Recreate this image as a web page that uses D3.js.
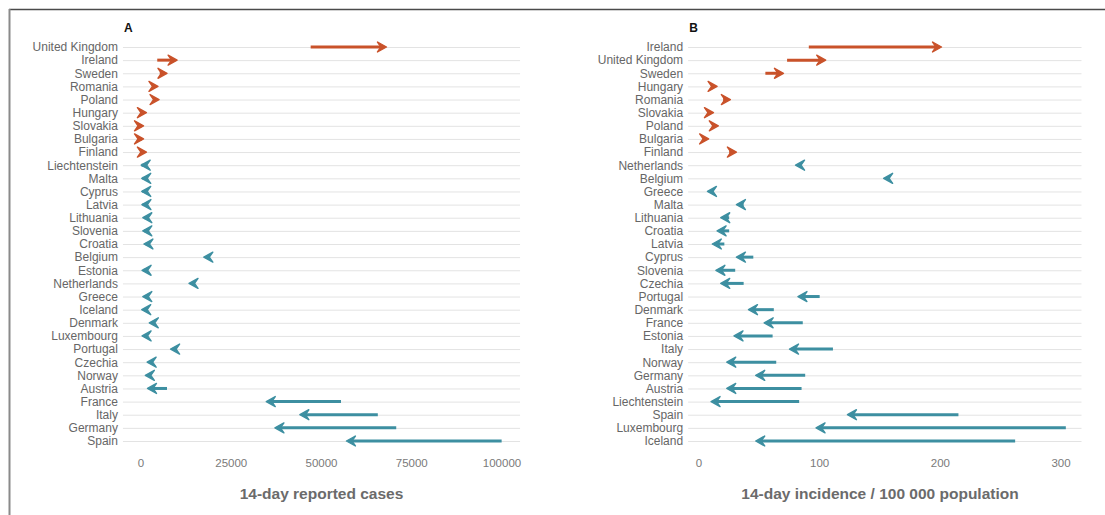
<!DOCTYPE html>
<html>
<head>
<meta charset="utf-8">
<script src="https://cdn.jsdelivr.net/npm/d3@7"></script>
<style>
  body { margin: 0; background: #fff; }
  svg { display: block; font-family: "Liberation Sans", Arial, sans-serif; }
</style>
</head>
<body>
<script>
// panel A : 14-day reported cases (previous -> current)
var countriesA = ["United Kingdom","Ireland","Sweden","Romania","Poland","Hungary","Slovakia","Bulgaria","Finland",
  "Liechtenstein","Malta","Cyprus","Latvia","Lithuania","Slovenia","Croatia","Belgium","Estonia","Netherlands",
  "Greece","Iceland","Denmark","Luxembourg","Portugal","Czechia","Norway","Austria","France","Italy","Germany","Spain"];
var startA = [47000,4500,5200,3600,3900,600,200,300,800,
  150,400,400,450,900,900,1300,19000,700,14800,
  1000,800,3600,900,9800,3300,2600,7200,55400,65600,70700,99900];
var endA = [68000,10000,7200,4700,5000,1500,700,700,1500,
  50,200,200,250,500,500,800,17400,300,13300,
  500,200,2300,300,8200,1700,1200,1800,34700,44000,37100,56900];

// panel B : 14-day incidence / 100 000 population
var countriesB = ["Ireland","United Kingdom","Sweden","Hungary","Romania","Slovakia","Poland","Bulgaria","Finland",
  "Netherlands","Belgium","Greece","Malta","Lithuania","Croatia","Latvia","Cyprus","Slovenia","Czechia",
  "Portugal","Denmark","France","Estonia","Italy","Norway","Germany","Austria","Liechtenstein","Spain","Luxembourg","Iceland"];
var startB = [91,73,55,10,20,7,11,3,25,
  84,158,12,37,25,25,21,45,30,37,
  100,62,86,61,111,64,88,85,83,215,304,262];
var endB = [201,105,70,15,26,12,16,8,31,
  80,153,7,31,18,15,11,31,14,18,
  82,41,54,29,75,23,47,23,10,123,97,47];

var ticksA = [0,25000,50000,75000,100000];
var ticksB = [0,100,200,300];

var orange = "#c9522a", teal = "#3d8fa1";

var svg = d3.select("body").append("svg")
  .attr("width", 1105).attr("height", 515);

// frame (top + left only)
svg.append("line").attr("x1", 9).attr("x2", 1105).attr("y1", 9.5).attr("y2", 9.5)
  .attr("stroke", "#4a4a4a").attr("stroke-width", 1.5);
svg.append("line").attr("x1", 9.5).attr("x2", 9.5).attr("y1", 9).attr("y2", 515)
  .attr("stroke", "#8a8a8a").attr("stroke-width", 2);

function panel(opt) {
  var g = svg.append("g");
  var x = d3.scaleLinear().domain(opt.domain).range(opt.range);
  var y = d3.scalePoint().domain(opt.countries).range([47, 441]);
  var gx0 = x(opt.gridExt[0]), gx1 = x(opt.gridExt[1]);

  // grid lines
  g.selectAll("line.grid").data(opt.countries).enter().append("line")
    .attr("class", "grid")
    .attr("x1", gx0).attr("x2", gx1)
    .attr("y1", function(d){ return y(d) + 0.5; })
    .attr("y2", function(d){ return y(d) + 0.5; })
    .attr("stroke", "#e3e3e3").attr("stroke-width", 1);

  // country labels
  g.selectAll("text.lab").data(opt.countries).enter().append("text")
    .attr("class", "lab")
    .attr("x", gx0 - 5)
    .attr("y", function(d){ return y(d); })
    .attr("dy", "0.36em")
    .attr("text-anchor", "end")
    .attr("font-size", "12px")
    .attr("fill", "#666")
    .text(function(d){ return d; });

  // arrows
  var rows = opt.countries.map(function(c, i){
    return {c: c, s: opt.start[i], e: opt.end[i]};
  });
  var arrows = g.selectAll("g.arrow").data(rows).enter().append("g").attr("class", "arrow");
  arrows.append("line")
    .attr("x1", function(d){ return x(d.s); })
    .attr("x2", function(d){ var dir = d.e >= d.s ? 1 : -1; return x(d.e) - dir * 4; })
    .attr("y1", function(d){ return y(d.c); })
    .attr("y2", function(d){ return y(d.c); })
    .attr("stroke", function(d){ return d.e >= d.s ? orange : teal; })
    .attr("stroke-width", 3);
  arrows.append("path")
    .attr("d", function(d){
      var dir = d.e >= d.s ? 1 : -1, tx = x(d.e), ty = y(d.c);
      return "M" + tx + "," + ty +
        "L" + (tx - dir * 9) + "," + (ty - 5) +
        "L" + (tx - dir * 5.5) + "," + ty +
        "L" + (tx - dir * 9) + "," + (ty + 5) + "Z";
    })
    .attr("fill", function(d){ return d.e >= d.s ? orange : teal; })
    .attr("stroke", function(d){ return d.e >= d.s ? orange : teal; })
    .attr("stroke-width", 1.4)
    .attr("stroke-linejoin", "round");

  // x axis tick labels
  g.selectAll("text.tick").data(opt.ticks).enter().append("text")
    .attr("class", "tick")
    .attr("x", function(d){ return x(d); })
    .attr("y", 467)
    .attr("text-anchor", "middle")
    .attr("font-size", "11.5px")
    .attr("fill", "#7a7a7a")
    .text(function(d){ return d; });

  // axis title
  g.append("text")
    .attr("x", (x(opt.domain[0]) + x(opt.domain[1])) / 2)
    .attr("y", 499)
    .attr("text-anchor", "middle")
    .attr("font-size", "15.5px")
    .attr("font-weight", "bold")
    .attr("fill", "#6b6b6b")
    .text(opt.title);

  // panel letter
  g.append("text")
    .attr("x", gx0 + 1)
    .attr("y", 32)
    .attr("font-size", "12px")
    .attr("font-weight", "bold")
    .attr("fill", "#111")
    .text(opt.letter);
}

panel({
  countries: countriesA, start: startA, end: endA, ticks: ticksA,
  domain: [0, 100000], range: [141, 502], gridExt: [-5000, 105000],
  title: "14-day reported cases", letter: "A"
});

panel({
  countries: countriesB, start: startB, end: endB, ticks: ticksB,
  domain: [0, 300], range: [699, 1061], gridExt: [-9, 317],
  title: "14-day incidence / 100 000 population", letter: "B"
});
</script>
</body>
</html>
